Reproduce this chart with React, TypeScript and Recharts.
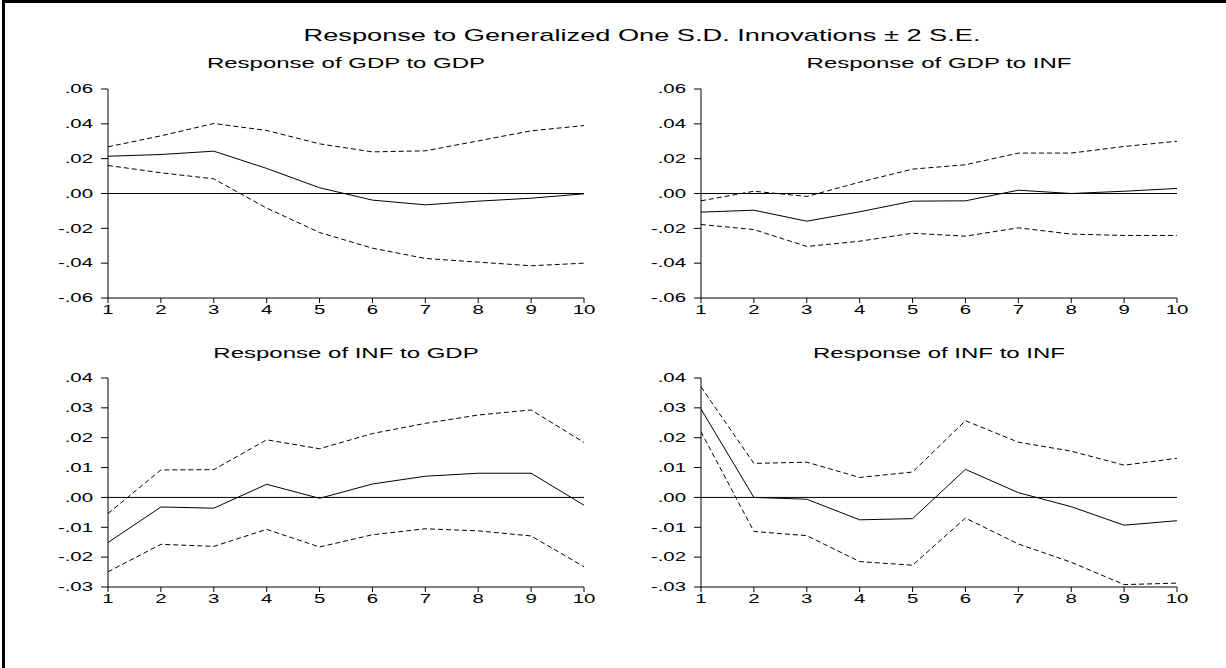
import React from 'react';
import { LineChart, Line, XAxis, YAxis, ReferenceLine } from 'recharts';

// ---- Data ----
const periods = [1, 2, 3, 4, 5, 6, 7, 8, 9, 10];

const gdpGdpResp = [0.0214, 0.0224, 0.0243, 0.0144, 0.0033, -0.0038, -0.0065, -0.0044, -0.0027, -0.0002];
const gdpGdpUpper = [0.0268, 0.0331, 0.0402, 0.0362, 0.0285, 0.0239, 0.0245, 0.0302, 0.036, 0.039];
const gdpGdpLower = [0.0161, 0.0119, 0.0084, -0.0084, -0.0224, -0.0314, -0.0373, -0.0394, -0.0415, -0.040];

const gdpInfResp = [-0.0107, -0.0096, -0.0159, -0.0105, -0.0044, -0.0042, 0.0019, 0.0, 0.0013, 0.0029];
const gdpInfUpper = [-0.0042, 0.0013, -0.0017, 0.0065, 0.014, 0.0165, 0.0232, 0.0232, 0.027, 0.030];
const gdpInfLower = [-0.0178, -0.0207, -0.0304, -0.0274, -0.0228, -0.0245, -0.0197, -0.0233, -0.0241, -0.0241];

const infGdpResp = [-0.0151, -0.0032, -0.0036, 0.0044, -0.0003, 0.0045, 0.0071, 0.0081, 0.0081, -0.0026];
const infGdpUpper = [-0.0054, 0.0092, 0.0093, 0.0193, 0.0163, 0.0214, 0.0248, 0.0276, 0.0293, 0.0184];
const infGdpLower = [-0.0249, -0.0157, -0.0164, -0.0107, -0.0166, -0.0125, -0.0105, -0.0112, -0.0129, -0.0232];

const infInfResp = [0.0296, 0.0, -0.0006, -0.0075, -0.0071, 0.0094, 0.0016, -0.0031, -0.0093, -0.0078];
const infInfUpper = [0.037, 0.0114, 0.0118, 0.0067, 0.0085, 0.0257, 0.0185, 0.0155, 0.0108, 0.0131];
const infInfLower = [0.022, -0.0114, -0.0128, -0.0215, -0.0227, -0.0069, -0.0156, -0.0217, -0.0292, -0.0287];

const topTicks = [-0.06, -0.04, -0.02, 0, 0.02, 0.04, 0.06];
const bottomTicks = [-0.03, -0.02, -0.01, 0, 0.01, 0.02, 0.03, 0.04];

const mainTitle = 'Response to Generalized One S.D. Innovations \u00B1 2 S.E.';
const panelTitles = [
  'Response of GDP to GDP',
  'Response of GDP to INF',
  'Response of INF to GDP',
  'Response of INF to INF',
];

// ---- Styling ----
const FONT = '"Liberation Sans", Arial, sans-serif';
const SX = 1.6;
const TICK_SX = 1.7;
const TICK_FS = 12;
const PLOT_W = 476;
const PLOT_H = 209;
const Y_AXIS_W = 60;
const M_TOP = 10;
const M_RIGHT = 30;
const X_AXIS_H = 30;

const build = (r: number[], u: number[], l: number[]) =>
  periods.map((p, i) => ({ period: p, resp: r[i], upper: u[i], lower: l[i] }));

const fmt = (v: number) => {
  const s = v.toFixed(2);
  return s.replace('0.', '.');
};

const YTick = (props: any) => {
  const { x, y, payload } = props;
  return (
    <g transform={`translate(${x},${y})`}>
      <text transform={`scale(${TICK_SX},1)`} textAnchor="end" dy="0.36em" fontSize={TICK_FS} fontFamily={FONT} fill="#000">
        {fmt(payload.value)}
      </text>
    </g>
  );
};

const XTick = (props: any) => {
  const { x, y, payload } = props;
  return (
    <g transform={`translate(${x},${y})`}>
      <text transform={`scale(${TICK_SX},1)`} textAnchor="middle" dy="0.72em" fontSize={TICK_FS} fontFamily={FONT} fill="#000">
        {payload.value}
      </text>
    </g>
  );
};

type PanelProps = {
  data: any[];
  ticks: number[];
  left: number;
  top: number;
};

const Panel = ({ data, ticks, left, top }: PanelProps) => (
  <div style={{ position: 'absolute', left: left - Y_AXIS_W, top: top - M_TOP }}>
    <LineChart
      width={Y_AXIS_W + PLOT_W + M_RIGHT}
      height={M_TOP + PLOT_H + X_AXIS_H}
      data={data}
      margin={{ top: M_TOP, right: M_RIGHT, bottom: 0, left: 0 }}
    >
      <XAxis
        dataKey="period"
        type="number"
        domain={[1, 10]}
        ticks={periods}
        interval={0}
        height={X_AXIS_H}
        tickSize={5}
        tickMargin={2}
        stroke="#000"
        tick={<XTick />}
        allowDecimals={false}
      />
      <XAxis
        xAxisId="top"
        orientation="top"
        dataKey="period"
        type="number"
        domain={[1, 10]}
        height={0}
        tick={false}
        tickLine={false}
        stroke="#000"
      />
      <YAxis
        type="number"
        domain={[ticks[0], ticks[ticks.length - 1]]}
        ticks={ticks}
        interval={0}
        width={Y_AXIS_W}
        tickSize={7}
        tickMargin={8}
        stroke="#000"
        tick={<YTick />}
      />
      <YAxis
        yAxisId="right"
        orientation="right"
        type="number"
        domain={[ticks[0], ticks[ticks.length - 1]]}
        width={0}
        tick={false}
        tickLine={false}
        stroke="#000"
      />
      <ReferenceLine y={0} stroke="#000" strokeWidth={1} />
      <Line dataKey="upper" stroke="#000" strokeWidth={1} strokeDasharray="5 3" dot={false} isAnimationActive={false} />
      <Line dataKey="lower" stroke="#000" strokeWidth={1} strokeDasharray="5 3" dot={false} isAnimationActive={false} />
      <Line dataKey="resp" stroke="#000" strokeWidth={1} dot={false} isAnimationActive={false} />
    </LineChart>
  </div>
);

const StretchText = ({ x, y, size, children }: { x: number; y: number; size: number; children: React.ReactNode }) => (
  <g transform={`translate(${x},${y})`}>
    <text transform={`scale(${SX},1)`} textAnchor="middle" dy="0.36em" fontSize={size} fontFamily={FONT} fill="#000">
      {children}
    </text>
  </g>
);

const LEFT_X = 108;
const RIGHT_X = 701;
const TOP_Y = 89;
const BOTTOM_Y = 378;

export default function App() {
  return (
    <div style={{ position: 'absolute', left: 0, top: 0, width: 1226, height: 668, background: '#fff', overflow: 'hidden' }}>
      <div
        style={{
          position: 'absolute',
          left: 2,
          top: 0,
          width: 1240,
          height: 700,
          borderTop: '3px solid #000',
          borderLeft: '3px solid #000',
          boxSizing: 'border-box',
        }}
      />
      <Panel data={build(gdpGdpResp, gdpGdpUpper, gdpGdpLower)} ticks={topTicks} left={LEFT_X} top={TOP_Y} />
      <Panel data={build(gdpInfResp, gdpInfUpper, gdpInfLower)} ticks={topTicks} left={RIGHT_X} top={TOP_Y} />
      <Panel data={build(infGdpResp, infGdpUpper, infGdpLower)} ticks={bottomTicks} left={LEFT_X} top={BOTTOM_Y} />
      <Panel data={build(infInfResp, infInfUpper, infInfLower)} ticks={bottomTicks} left={RIGHT_X} top={BOTTOM_Y} />
      <svg width={1226} height={668} style={{ position: 'absolute', left: 0, top: 0, pointerEvents: 'none' }}>
        <StretchText x={642} y={35} size={17}>{mainTitle}</StretchText>
        <StretchText x={LEFT_X + PLOT_W / 2} y={63} size={15}>{panelTitles[0]}</StretchText>
        <StretchText x={RIGHT_X + PLOT_W / 2} y={63} size={15}>{panelTitles[1]}</StretchText>
        <StretchText x={LEFT_X + PLOT_W / 2} y={353} size={15}>{panelTitles[2]}</StretchText>
        <StretchText x={RIGHT_X + PLOT_W / 2} y={353} size={15}>{panelTitles[3]}</StretchText>
      </svg>
    </div>
  );
}
